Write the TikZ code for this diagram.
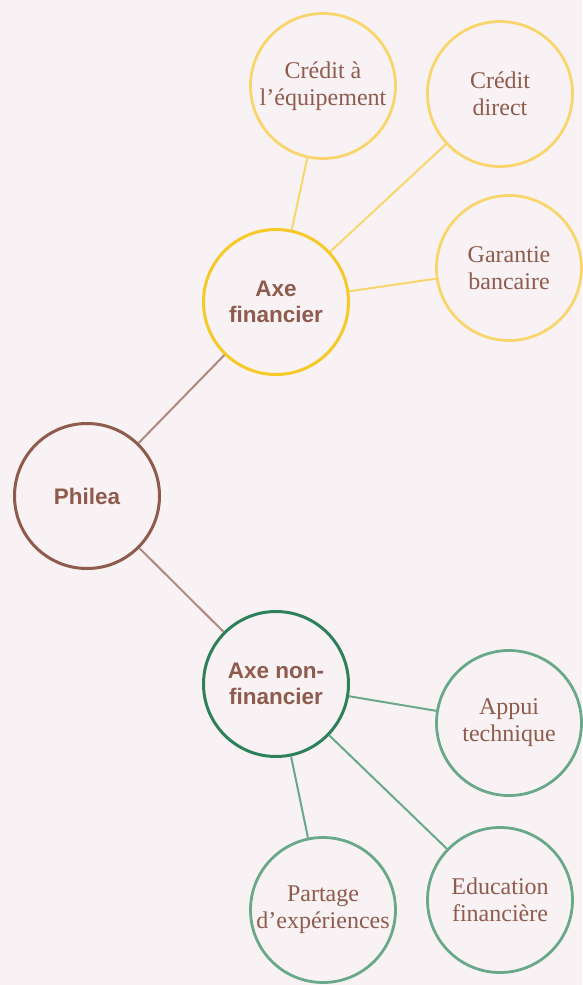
\documentclass[tikz,border=0pt]{standalone}
\usepackage{fontspec}
\setmainfont{Liberation Serif}
\setsansfont{Liberation Sans}
\usepackage{tikz}
\usepackage{xcolor}
\usetikzlibrary{positioning}

\definecolor{bgpink}{HTML}{F8F2F4}
\definecolor{brownink}{HTML}{8E5B4C}
\definecolor{brownline}{HTML}{B08A7F}
\definecolor{gold}{HTML}{F7C928}
\definecolor{lightgold}{HTML}{F9D66C}
\definecolor{darkgreen}{HTML}{2E8059}
\definecolor{lightgreen}{HTML}{69A98A}

\tikzset{
    bubble/.style={circle, draw, inner sep=0pt, minimum size=145pt, align=center, text=brownink},
    hub/.style={bubble, line width=3pt, font=\sffamily\bfseries\fontsize{22.5}{26}\selectfont},
    leaf/.style={bubble, line width=2.8pt, font=\fontsize{24}{27}\selectfont},
}

\begin{document}
\begin{tikzpicture}[x=1pt, y=-1pt]
            \fill[bgpink] (0, 0) rectangle (582, 985);
            \useasboundingbox (0, 0) rectangle (582, 985);

            \node[hub, draw=brownink] (phi) at (87, 496) {Philea};
            \node[hub, draw=gold] (fin) at (276, 302) {Axe\\financier};
            \node[hub, draw=darkgreen] (nonfin) at (276, 684) {Axe non-\\financier};

            \node[leaf, draw=lightgold] (equip) at (323, 86) {Crédit à\\l’équipement};
            \node[leaf, draw=lightgold] (direct) at (500, 94) {Crédit\\direct};
            \node[leaf, draw=lightgold] (garantie) at (509, 268) {Garantie\\bancaire};

            \node[leaf, draw=lightgreen] (appui) at (509, 723) {Appui\\technique};
            \node[leaf, draw=lightgreen] (educ) at (500, 900) {Education\\financière};
            \node[leaf, draw=lightgreen] (partage) at (323, 910) {Partage\\d’expériences};

            \draw[brownline, line width=2pt] (phi) -- (fin);
            \draw[brownline, line width=2pt] (phi) -- (nonfin);
            \draw[lightgold, line width=2pt] (fin) -- (equip);
            \draw[lightgold, line width=2pt] (fin) -- (direct);
            \draw[lightgold, line width=2pt] (fin) -- (garantie);
            \draw[lightgreen, line width=2pt] (nonfin) -- (appui);
            \draw[lightgreen, line width=2pt] (nonfin) -- (educ);
            \draw[lightgreen, line width=2pt] (nonfin) -- (partage);
        \end{tikzpicture}
\end{document}
